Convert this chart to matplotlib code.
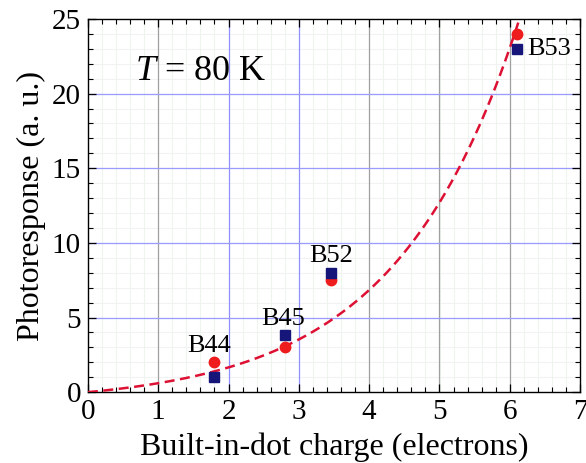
import numpy as np
import matplotlib
matplotlib.use("Agg")
import matplotlib.pyplot as plt
from matplotlib.ticker import MultipleLocator

plt.rcParams['font.family'] = ['Liberation Serif', 'DejaVu Serif']
plt.rcParams['mathtext.fontset'] = 'custom'
plt.rcParams['mathtext.rm'] = 'Liberation Serif'
plt.rcParams['mathtext.it'] = 'Liberation Serif:italic'

# built-in-dot charge for each sample
samples = ['B44', 'B45', 'B52', 'B53']
charge = [1.8, 2.8, 3.45, 6.1]
resp_circles = [2.0, 3.0, 7.5, 24.0]
resp_squares = [1.0, 3.8, 8.0, 23.0]

# exponential fit  y = A * (exp(b*x) - 1)
fit_A = 0.78
fit_b = 0.57

fig = plt.figure(figsize=(5.86, 4.63), dpi=100)
ax = fig.add_axes([0.150, 0.153, 0.840, 0.806])

ax.set_xlim(0, 7)
ax.set_ylim(0, 25)
ax.xaxis.set_major_locator(MultipleLocator(1))
ax.xaxis.set_minor_locator(MultipleLocator(0.2))
ax.yaxis.set_major_locator(MultipleLocator(5))
ax.yaxis.set_minor_locator(MultipleLocator(1))

# grid: faint minor lines, blue horizontals, mixed verticals
for xv in np.arange(0.2, 7, 0.2):
    ax.axvline(xv, color='#edf5ed', lw=0.8, zorder=0)
for yv in range(1, 25):
    ax.axhline(yv, color='#f2f2f2', lw=0.8, zorder=0)
for xv in range(1, 7):
    c = '#8f8fff' if xv in (2, 3) else '#a0a0a0'
    ax.axvline(xv, color=c, lw=0.9, zorder=1)
for yv in (5, 10, 15, 20):
    ax.axhline(yv, color='#9a9aff', lw=0.9, zorder=1)

xf = np.linspace(0, 6.3, 300)
yf = fit_A * (np.exp(fit_b * xf) - 1)
ax.plot(xf, yf, color='#dd1133', lw=1.8, dashes=(4, 2.2), zorder=3)

ax.plot(charge, resp_circles, 'o', color='#ee1c1c', ms=7.5, zorder=4, clip_on=False)
ax.plot(charge, resp_squares, 's', color='#15157a', ms=6.5, zorder=4, clip_on=False)

label_pos = [(1.72, 2.7, 'center'), (2.77, 4.5, 'center'), (3.46, 8.7, 'center'),
             (6.25, 22.6, 'left')]
for name, (lx, ly, ha) in zip(samples, label_pos):
    ax.text(lx, ly, name, ha=ha, va='baseline', fontsize=19, zorder=5)

ax.text(0.67, 20.9, r'$T$ = 80 K', fontsize=26, va='baseline')

ax.set_xlabel('Built-in-dot charge (electrons)', fontsize=23, labelpad=5)
ax.set_ylabel('Photoresponse (a. u.)', fontsize=23, labelpad=4)

ax.tick_params(which='both', direction='in', top=True, right=True, labelsize=21)
ax.tick_params(which='major', length=6, width=0.9, pad=5)
ax.tick_params(which='minor', length=3.5, width=0.8)
for s in ax.spines.values():
    s.set_linewidth(1.0)

fig.savefig('out.png', dpi=100)
